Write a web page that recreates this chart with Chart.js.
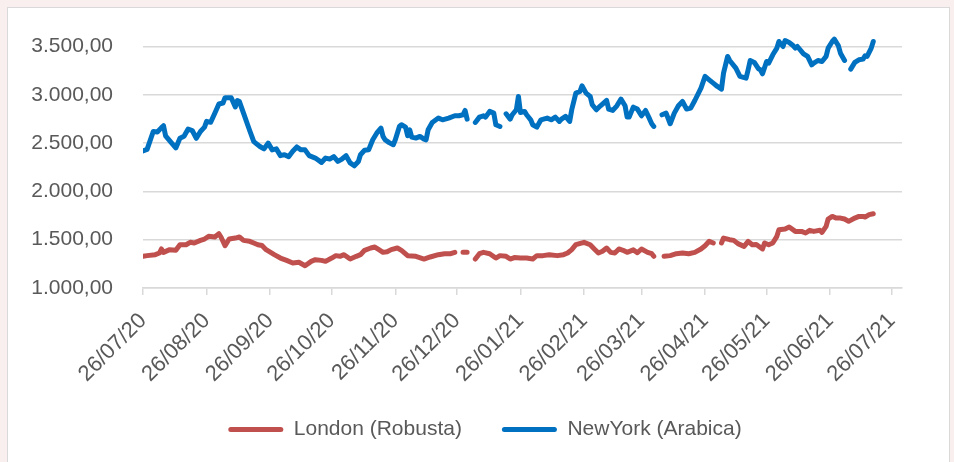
<!DOCTYPE html>
<html>
<head>
<meta charset="utf-8">
<script src="https://cdn.jsdelivr.net/npm/chart.js@4.4.1/dist/chart.umd.min.js"></script>
<style>
    html, body { margin: 0; padding: 0; background: #f8efee; overflow: hidden; }
    #frame { position: absolute; left: 7px; top: 7px; width: 941px; height: 470px; background: #fff; border: 1px solid #d9d9d9; }
    #wrap { position: absolute; left: 0; top: 0; width: 954px; height: 462px; }
</style>
</head>
<body>
<div id="frame"></div>
<div id="wrap"><canvas id="coffeeChart"></canvas></div>
<script>
// x values are days since 26/07/2020, null = no quote that day
const startDate = new Date(2020, 6, 26);

const tickLabels = ['26/07/20', '26/08/20', '26/09/20', '26/10/20', '26/11/20', '26/12/20',
    '26/01/21', '26/02/21', '26/03/21', '26/04/21', '26/05/21', '26/06/21', '26/07/21'];
const yTicks = [1000, 1500, 2000, 2500, 3000, 3500];

const robustaDays = [0, 2, 6, 8, 9, 10, 13, 16, 18, 21, 23, 25, 28, 30, 32, 35, 37, 38, 40, 42,
    45, 47, 49, 52, 54, 56, 58, 60, 64, 67, 70, 73, 76, 79, 82, 84, 87, 89, 92, 94,
    96, 98, 101, 104, 106, 108, 111, 113, 115, 117, 119, 121, 124, 126, 129, 133, 137, 140, 144, 147,
    150, 152, 153, 156, 158, 160, 162, 164, 166, 169, 172, 174, 177, 179, 181, 184, 187, 190, 192, 195,
    198, 202, 205, 207, 209, 211, 215, 218, 220, 222, 224, 226, 228, 230, 232, 234, 236, 239, 241, 243,
    246, 248, 249, 251, 254, 257, 260, 263, 266, 269, 272, 274, 276, 278, 280, 282, 283, 286, 288, 290,
    293, 295, 297, 299, 302, 303, 305, 307, 309, 310, 313, 315, 318, 321, 323, 325, 327, 330, 331, 333,
    334, 336, 338, 340, 342, 344, 347, 349, 351, 352, 354, 356];
const robustaValues = [1328, 1335, 1345, 1362, 1404, 1369, 1397, 1390, 1448, 1448, 1473, 1466, 1493, 1507, 1535, 1528, 1562, 1528, 1438, 1507,
    1517, 1528, 1493, 1483, 1466, 1448, 1440, 1397, 1345, 1310, 1286, 1259, 1266, 1231, 1276, 1293, 1286, 1276, 1310, 1335,
    1328, 1345, 1300, 1328, 1345, 1390, 1414, 1424, 1397, 1369, 1375, 1397, 1414, 1390, 1335, 1328, 1300, 1321, 1345, 1355,
    1355, 1369, null, 1369, 1369, null, 1300, 1355, 1369, 1355, 1310, 1335, 1328, 1300, 1315, 1310, 1310, 1300, 1335, 1335,
    1345, 1335, 1345, 1362, 1397, 1448, 1473, 1448, 1404, 1362, 1380, 1414, 1369, 1362, 1404, 1390, 1369, 1395, 1365, 1404,
    1369, 1355, 1328, null, 1328, 1335, 1355, 1362, 1355, 1369, 1404, 1438, 1483, 1466, null, 1466, 1517, 1500, 1493, 1459,
    1431, 1483, 1448, 1450, 1404, 1466, 1448, 1466, 1535, 1604, 1610, 1631, 1586, 1586, 1569, 1597, 1586, 1597, 1576, 1638,
    1714, 1741, 1724, 1724, 1714, 1690, 1724, 1741, 1741, 1734, 1759, 1769];

const arabicaDays = [0, 2, 5, 7, 9, 10, 11, 14, 16, 18, 20, 22, 24, 26, 28, 30, 31, 33, 35, 37,
    39, 40, 43, 45, 46, 47, 49, 51, 52, 54, 57, 59, 61, 63, 65, 67, 69, 71, 73, 75,
    77, 79, 81, 84, 87, 89, 91, 93, 95, 97, 99, 101, 103, 105, 106, 108, 110, 112, 114, 116,
    117, 118, 120, 122, 123, 125, 126, 128, 129, 130, 131, 133, 135, 137, 138, 139, 141, 144, 146, 149,
    152, 154, 156, 157, 158, 160, 162, 164, 166, 167, 169, 171, 172, 174, 175, 177, 179, 180, 182, 183,
    184, 186, 187, 189, 190, 192, 194, 197, 199, 201, 203, 204, 206, 208, 209, 211, 213, 214, 216, 218,
    219, 221, 223, 226, 227, 229, 231, 233, 235, 236, 237, 239, 241, 243, 245, 247, 248, 249, 251, 253,
    255, 257, 259, 261, 263, 265, 267, 269, 272, 274, 276, 278, 280, 282, 283, 285, 286, 289, 291, 294,
    295, 296, 298, 300, 301, 302, 304, 305, 307, 309, 310, 312, 313, 315, 317, 318, 319, 322, 324, 326,
    327, 329, 331, 333, 334, 336, 337, 339, 340, 342, 343, 345, 347, 349, 351, 352, 353, 355, 356];
const arabicaValues = [2420, 2435, 2620, 2615, 2660, 2680, 2575, 2500, 2450, 2550, 2570, 2645, 2630, 2550, 2620, 2665, 2725, 2715, 2810, 2905,
    2915, 2970, 2970, 2875, 2940, 2930, 2810, 2690, 2630, 2515, 2465, 2440, 2500, 2430, 2440, 2370, 2380, 2360, 2415, 2460,
    2430, 2430, 2370, 2345, 2300, 2345, 2335, 2360, 2310, 2335, 2370, 2295, 2265, 2310, 2380, 2425, 2430, 2535, 2605, 2655,
    2570, 2535, 2505, 2483, 2534, 2672, 2690, 2665, 2576, 2638, 2562, 2552, 2569, 2541, 2534, 2638, 2714, 2759, 2741, 2759,
    2783, 2783, 2793, 2838, 2748, null, 2714, 2769, 2783, 2769, 2828, 2810, 2690, 2672, null, 2803, 2748, 2793, 2845, 2983,
    2817, 2828, 2793, 2741, 2690, 2665, 2741, 2759, 2741, 2769, 2724, 2748, 2776, 2724, 2845, 3017, 3034, 3093, 3017, 2983,
    2897, 2845, 2886, 2941, 2852, 2838, 2886, 2955, 2886, 2769, 2769, 2872, 2852, 2783, 2838, 2748, 2700, 2672, null, 2793,
    2810, 2700, 2810, 2886, 2931, 2852, 2862, 2941, 3069, 3190, 3155, 3121, 3086, 3059, 3224, 3397, 3355, 3276, 3190, 3172,
    3259, 3355, 3335, 3270, 3259, 3217, 3345, 3328, 3414, 3483, 3552, 3500, 3562, 3541, 3507, 3483, 3500, 3424, 3397, 3310,
    3328, 3355, 3345, 3397, 3483, 3552, 3576, 3507, 3431, 3355, null, 3266, 3335, 3362, 3369, 3404, 3397, 3483, 3552];

const textColor = '#595959';
const gridColor = '#d9d9d9';
const fontFamily = '"Liberation Sans", Arial, sans-serif';
const axisFont = { family: fontFamily, size: 21 };
const dateFont = { family: fontFamily, size: 22 };

function dayOf(label) {
    const [d, m, y] = label.split('/').map(Number);
    return Math.round((new Date(2000 + y, m - 1, d) - startDate) / 86400000);
}

function formatValue(v) {
    const [int, dec] = v.toFixed(2).split('.');
    return int.replace(/\B(?=(\d{3})+(?!\d))/g, '.') + ',' + dec;
}

function toPoints(days, values) {
    return days.map((d, i) => ({ x: d, y: values[i] }));
}

const tickDays = tickLabels.map(dayOf);

// the legend sits a bit right of centre and closer to the axis labels in the original
const legendNudge = {
    id: 'legendNudge',
    afterLayout(chart) {
        const legend = chart.legend;
        if (!legend) return;
        legend.left += 34;
        legend.right += 34;
        legend.top -= 12;
        legend.bottom -= 12;
    }
};

function renderCoffeeChart() {
    const canvas = document.getElementById('coffeeChart');
    if (!canvas) return;

    Chart.getChart(canvas)?.destroy();

    new Chart(canvas, {
        type: 'line',
        data: {
            datasets: [{
                label: 'London (Robusta)',
                data: toPoints(robustaDays, robustaValues),
                borderColor: '#c0504d',
                backgroundColor: '#c0504d',
                borderWidth: 5,
                pointRadius: 0,
                tension: 0,
                spanGaps: false,
                borderJoinStyle: 'round',
                borderCapStyle: 'round'
            }, {
                label: 'NewYork (Arabica)',
                data: toPoints(arabicaDays, arabicaValues),
                borderColor: '#0070c0',
                backgroundColor: '#0070c0',
                borderWidth: 5,
                pointRadius: 0,
                tension: 0,
                spanGaps: false,
                borderJoinStyle: 'round',
                borderCapStyle: 'round'
            }]
        },
        plugins: [legendNudge],
        options: {
            responsive: true,
            maintainAspectRatio: false,
            animation: false,
            devicePixelRatio: 1,
            events: [],
            layout: {
                padding: { top: 32, left: 0, right: 52, bottom: 0 }
            },
            scales: {
                x: {
                    type: 'linear',
                    min: 0,
                    max: 370,
                    afterBuildTicks: scale => { scale.ticks = tickDays.map(v => ({ value: v })); },
                    afterFit: scale => {
                        scale.height = 103;
                        scale.paddingLeft = 0;
                        scale.paddingRight = 0;
                    },
                    ticks: {
                        autoSkip: false,
                        minRotation: 45,
                        maxRotation: 45,
                        padding: 13,
                        color: textColor,
                        font: dateFont,
                        callback: (v, i) => tickLabels[i]
                    },
                    grid: { drawOnChartArea: false, drawTicks: true, tickLength: 7, color: gridColor, lineWidth: 1.5 },
                    border: { display: true, color: gridColor, width: 1.5 }
                },
                y: {
                    min: 1000,
                    max: 3650,
                    afterBuildTicks: scale => { scale.ticks = yTicks.map(v => ({ value: v })); },
                    afterFit: scale => {
                        scale.width = 143;
                        scale.paddingTop = 0;
                        scale.paddingBottom = 0;
                    },
                    ticks: {
                        padding: 30,
                        color: textColor,
                        font: axisFont,
                        callback: v => formatValue(v)
                    },
                    grid: { color: gridColor, lineWidth: 1.5, drawTicks: false },
                    border: { display: false }
                }
            },
            plugins: {
                tooltip: { enabled: false },
                legend: {
                    position: 'bottom',
                    labels: {
                        color: textColor,
                        font: axisFont,
                        boxWidth: 55,
                        boxHeight: 5,
                        padding: 40,
                        useBorderRadius: true,
                        borderRadius: 2.5,
                        generateLabels: chart => {
                            const items = Chart.defaults.plugins.legend.labels.generateLabels(chart);
                            items.forEach(item => {
                                item.lineWidth = 0;
                                item.fillStyle = item.strokeStyle;
                            });
                            return items;
                        }
                    }
                }
            }
        }
    });
}

renderCoffeeChart();
</script>
</body>
</html>
